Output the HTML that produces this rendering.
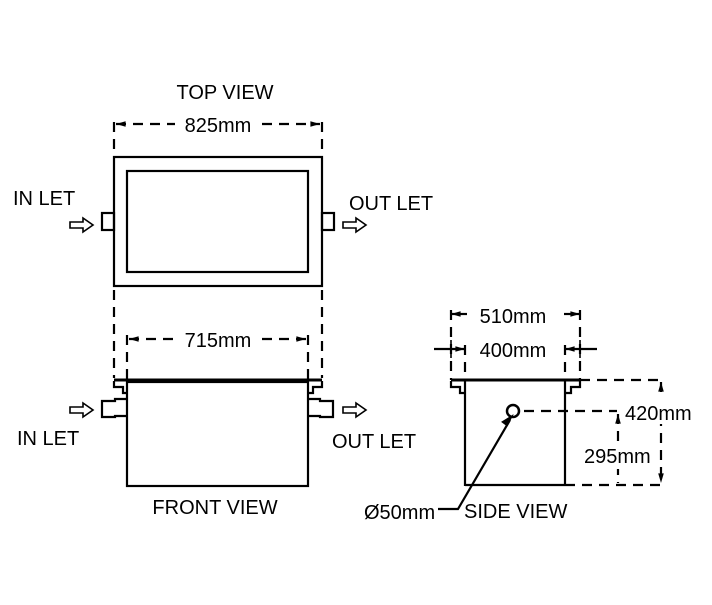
<!DOCTYPE html>
<html><head><style>
html,body{margin:0;padding:0;background:#fff;}
svg text{font-family:"Liberation Sans",sans-serif;font-size:20px;fill:#000;}
</style></head><body>
<svg width="712" height="600" viewBox="0 0 712 600" xmlns="http://www.w3.org/2000/svg">
<defs>
<marker id="ar" viewBox="0 0 12 10" refX="12" refY="5" markerWidth="12" markerHeight="8" orient="auto-start-reverse" markerUnits="userSpaceOnUse"><path d="M0,1.5 L12,5 L0,8.5 z" fill="#000"/></marker>
</defs>
<g stroke="#000" fill="none" stroke-width="2.2">
<!-- TOP VIEW -->
<rect x="114" y="157" width="208" height="129"/>
<rect x="127" y="171" width="181" height="101"/>
<rect x="102" y="213" width="12" height="17"/>
<rect x="322" y="213" width="12" height="17"/>
<path d="M70,222 h13 v-4 l10,7 l-10,7 v-4 h-13 z" stroke-width="1.6"/>
<path d="M343,222 h13 v-4 l10,7 l-10,7 v-4 h-13 z" stroke-width="1.6"/>
<g stroke-dasharray="10,7">
<line x1="114" y1="122" x2="114" y2="150"/>
<line x1="322" y1="122" x2="322" y2="150"/>
<line x1="116" y1="124" x2="175" y2="124" marker-start="url(#ar)"/>
<line x1="262" y1="124" x2="320" y2="124" marker-end="url(#ar)"/>
<line x1="114" y1="290" x2="114" y2="378"/>
<line x1="322" y1="290" x2="322" y2="378"/>
<line x1="127" y1="335" x2="127" y2="380"/>
<line x1="308" y1="335" x2="308" y2="380"/>
<line x1="129" y1="339" x2="175" y2="339" marker-start="url(#ar)"/>
<line x1="262" y1="339" x2="306" y2="339" marker-end="url(#ar)"/>
</g>
<!-- FRONT VIEW -->
<line x1="114" y1="380" x2="322" y2="380" stroke-width="3"/>
<path d="M114,381 v6 h9 v6 h4"/>
<path d="M322,381 v6 h-9 v6 h-5"/>
<rect x="127" y="382" width="181" height="104"/>
<path d="M127,399 h-12 v2 h-13 v16 h13 v-1 h12"/>
<path d="M308,399 h12 v2 h13 v16 h-13 v-1 h-12"/>
<path d="M70,407 h13 v-4 l10,7 l-10,7 v-4 h-13 z" stroke-width="1.6"/>
<path d="M343,407 h13 v-4 l10,7 l-10,7 v-4 h-13 z" stroke-width="1.6"/>
<!-- SIDE VIEW -->
<line x1="451" y1="380" x2="580" y2="380" stroke-width="3"/>
<path d="M451,381 v6 h9 v6 h5"/>
<path d="M580,381 v6 h-9 v6 h-6"/>
<line x1="465" y1="381" x2="465" y2="486"/>
<line x1="565" y1="381" x2="565" y2="486"/>
<line x1="465" y1="485" x2="565" y2="485"/>
<circle cx="513" cy="411" r="6" stroke-width="2.5"/>
<path d="M438,509 h20 l52,-89" />
<path d="M511,417 l-8,5 l4,3 z" fill="#000"/>
<g stroke-dasharray="10,7">
<line x1="451" y1="310" x2="451" y2="380"/>
<line x1="580" y1="310" x2="580" y2="380"/>
<line x1="465" y1="345" x2="465" y2="380"/>
<line x1="565" y1="345" x2="565" y2="380"/>
<line x1="524" y1="411" x2="617" y2="411"/>
<line x1="580" y1="380" x2="661" y2="380"/>
<line x1="565" y1="485" x2="661" y2="485"/>
<line x1="661" y1="382" x2="661" y2="483" marker-start="url(#ar)" marker-end="url(#ar)"/>
<line x1="618" y1="414" x2="618" y2="483" marker-start="url(#ar)"/>
</g>
<line x1="451" y1="314" x2="467" y2="314" marker-start="url(#ar)"/>
<line x1="564" y1="314" x2="580" y2="314" marker-end="url(#ar)"/>
<line x1="434" y1="349" x2="465" y2="349" marker-end="url(#ar)"/>
<line x1="597" y1="349" x2="565" y2="349" marker-end="url(#ar)"/>
<line x1="451" y1="340" x2="451" y2="358" stroke-width="1.6"/>
<line x1="580" y1="340" x2="580" y2="358" stroke-width="1.6"/>
</g>
<rect x="624" y="398" width="72" height="26" fill="#fff"/>
<rect x="583" y="445" width="72" height="24" fill="#fff"/>
<text x="225" y="99" text-anchor="middle">TOP VIEW</text>
<text x="218" y="132" text-anchor="middle">825mm</text>
<text x="13" y="205">IN LET</text>
<text x="349" y="210">OUT LET</text>
<text x="218" y="347" text-anchor="middle">715mm</text>
<text x="17" y="445">IN LET</text>
<text x="332" y="448">OUT LET</text>
<text x="215" y="514" text-anchor="middle">FRONT VIEW</text>
<text x="513" y="323" text-anchor="middle">510mm</text>
<text x="513" y="357" text-anchor="middle">400mm</text>
<text x="625" y="420">420mm</text>
<text x="584" y="463">295mm</text>
<text x="364" y="519">Ø50mm</text>
<text x="464" y="518">SIDE VIEW</text>
</svg>
</body></html>
